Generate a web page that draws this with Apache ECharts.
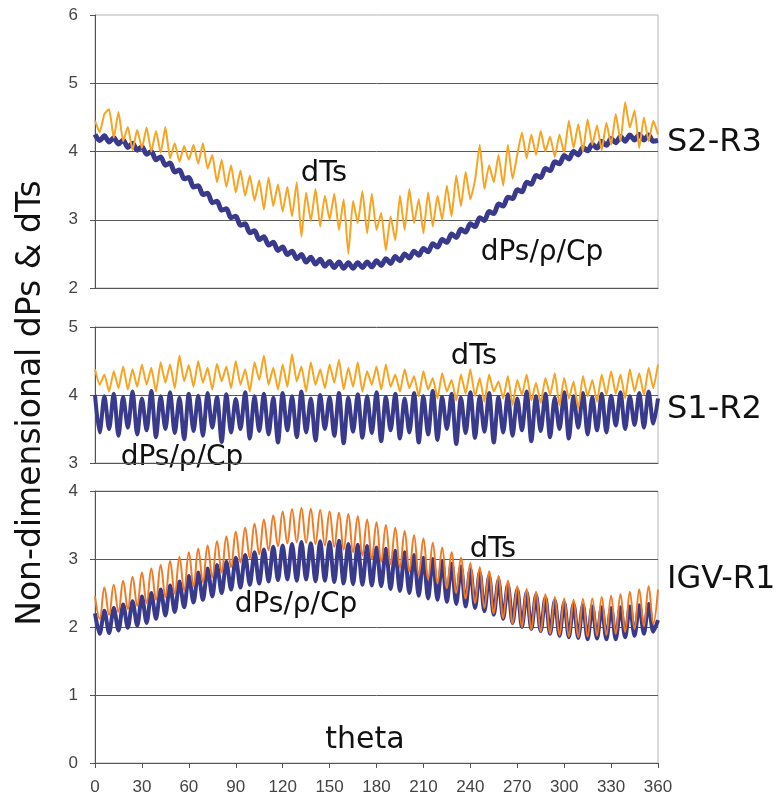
<!DOCTYPE html>
<html>
<head>
<meta charset="utf-8">
<title>Non-dimensional dPs &amp; dTs</title>
<script src="https://cdn.jsdelivr.net/npm/echarts@6/dist/echarts.min.js"></script>
<style>
  html, body { margin: 0; padding: 0; background: #fff; }
  #chart { width: 782px; height: 796px; }
</style>
</head>
<body>
<div id="chart"></div>
<script>
// sample angles, every 3 deg
const theta = [
  0, 3, 6, 9, 12, 15, 18, 21, 24, 27,
  30, 33, 36, 39, 42, 45, 48, 51, 54, 57,
  60, 63, 66, 69, 72, 75, 78, 81, 84, 87,
  90, 93, 96, 99, 102, 105, 108, 111, 114, 117,
  120, 123, 126, 129, 132, 135, 138, 141, 144, 147,
  150, 153, 156, 159, 162, 165, 168, 171, 174, 177,
  180, 183, 186, 189, 192, 195, 198, 201, 204, 207,
  210, 213, 216, 219, 222, 225, 228, 231, 234, 237,
  240, 243, 246, 249, 252, 255, 258, 261, 264, 267,
  270, 273, 276, 279, 282, 285, 288, 291, 294, 297,
  300, 303, 306, 309, 312, 315, 318, 321, 324, 327,
  330, 333, 336, 339, 342, 345, 348, 351, 354, 357,
  360
]
const thetaTicks = [0, 30, 60, 90, 120, 150, 180, 210, 240, 270, 300, 330, 360]

// S2-R3
const s2r3_dPs = [
  4.25, 4.16, 4.23, 4.14, 4.20, 4.11, 4.17, 4.06, 4.12, 4.02,
  4.07, 3.96, 4.00, 3.88, 3.92, 3.80, 3.83, 3.70, 3.73, 3.60,
  3.62, 3.48, 3.50, 3.37, 3.39, 3.25, 3.27, 3.14, 3.16, 3.03,
  3.05, 2.92, 2.94, 2.81, 2.84, 2.71, 2.75, 2.63, 2.67, 2.55,
  2.60, 2.49, 2.54, 2.43, 2.49, 2.38, 2.45, 2.35, 2.42, 2.32,
  2.39, 2.30, 2.38, 2.29, 2.37, 2.29, 2.37, 2.30, 2.38, 2.31,
  2.40, 2.33, 2.43, 2.36, 2.46, 2.40, 2.50, 2.44, 2.54, 2.48,
  2.58, 2.53, 2.65, 2.60, 2.71, 2.67, 2.79, 2.74, 2.86, 2.82,
  2.94, 2.90, 3.03, 2.99, 3.12, 3.09, 3.23, 3.20, 3.33, 3.31,
  3.44, 3.41, 3.55, 3.52, 3.65, 3.62, 3.75, 3.72, 3.85, 3.82,
  3.94, 3.89, 4.00, 3.95, 4.06, 4.01, 4.11, 4.05, 4.15, 4.09,
  4.19, 4.13, 4.22, 4.15, 4.24, 4.17, 4.25, 4.17, 4.24, 4.15,
  4.16
]
const s2r3_dTs = [
  4.45, 4.28, 4.55, 4.62, 4.20, 4.58, 4.15, 4.36, 4.02, 4.32,
  4.05, 4.35, 4.00, 4.30, 3.98, 4.36, 3.90, 4.12, 3.85, 4.08,
  3.88, 4.10, 3.82, 4.12, 3.75, 3.95, 3.55, 3.88, 3.48, 3.80,
  3.40, 3.72, 3.35, 3.65, 3.28, 3.58, 3.15, 3.62, 3.20, 3.52,
  3.12, 3.48, 3.05, 3.55, 2.75, 3.40, 2.98, 3.45, 2.90, 3.35,
  3.00, 3.38, 2.85, 3.30, 2.50, 3.28, 2.95, 3.42, 2.80, 3.38,
  2.85, 3.10, 2.55, 3.05, 2.70, 3.35, 2.85, 3.45, 2.95, 3.30,
  2.80, 3.40, 2.90, 3.35, 3.00, 3.50, 3.05, 3.65, 3.20, 3.70,
  3.30, 3.58, 4.10, 3.45, 3.80, 3.55, 3.95, 3.50, 4.10, 3.60,
  3.95, 4.28, 3.90, 4.25, 3.95, 4.30, 4.00, 4.22, 3.92, 4.25,
  3.98, 4.45, 4.05, 4.40, 4.00, 4.47, 4.10, 4.38, 4.02, 4.42,
  4.10, 4.55, 4.15, 4.72, 4.35, 4.60, 4.05, 4.50, 4.15, 4.45,
  4.25
]

// S1-R2
const s1r2_dPs = [
  4.00, 3.45, 3.98, 3.50, 4.02, 3.40, 3.97, 3.52, 4.05, 3.42,
  3.95, 3.48, 4.06, 3.38, 3.98, 3.50, 4.04, 3.44, 3.96, 3.35,
  4.02, 3.47, 3.99, 3.40, 4.03, 3.52, 3.97, 3.31, 4.01, 3.45,
  3.94, 3.50, 4.04, 3.36, 3.98, 3.47, 4.02, 3.42, 3.96, 3.30,
  4.03, 3.48, 3.98, 3.38, 4.05, 3.45, 3.95, 3.33, 4.00, 3.50,
  3.97, 3.40, 4.03, 3.29, 3.96, 3.46, 4.01, 3.37, 3.98, 3.44,
  4.04, 3.32, 3.97, 3.48, 4.02, 3.36, 3.95, 3.45, 4.03, 3.30,
  3.98, 3.42, 4.06, 3.34, 3.97, 3.50, 4.02, 3.28, 3.96, 3.44,
  4.04, 3.37, 3.98, 3.46, 4.03, 3.30, 3.97, 3.45, 4.01, 3.40,
  3.95, 3.48, 4.05, 3.32, 3.98, 3.47, 4.02, 3.38, 3.96, 3.50,
  4.04, 3.36, 3.98, 3.52, 4.03, 3.42, 3.97, 3.48, 4.02, 3.45,
  3.99, 3.55, 4.04, 3.50, 3.98, 3.56, 4.03, 3.52, 4.05, 3.58,
  3.95
]
const s1r2_dTs = [
  4.38, 4.15, 4.30, 4.05, 4.35, 4.10, 4.42, 4.08, 4.38, 4.12,
  4.45, 4.15, 4.40, 4.05, 4.48, 4.18, 4.45, 4.10, 4.58, 4.20,
  4.44, 4.12, 4.50, 4.18, 4.40, 4.08, 4.46, 4.20, 4.42, 4.10,
  4.50, 4.15, 4.38, 4.05, 4.48, 4.22, 4.58, 4.15, 4.40, 4.08,
  4.45, 4.12, 4.60, 4.20, 4.42, 4.05, 4.48, 4.15, 4.38, 4.10,
  4.45, 4.18, 4.52, 4.08, 4.40, 4.12, 4.48, 4.05, 4.35, 4.15,
  4.42, 4.08, 4.45, 4.12, 4.30, 4.05, 4.38, 4.10, 4.28, 3.98,
  4.35, 4.08, 4.25, 3.95, 4.32, 4.05, 4.22, 3.92, 4.30, 4.02,
  4.38, 3.98, 4.25, 3.90, 4.30, 4.05, 4.20, 3.95, 4.28, 3.85,
  4.22, 4.00, 4.30, 3.92, 4.18, 3.88, 4.25, 4.00, 4.32, 3.85,
  4.25, 3.95, 4.20, 3.80, 4.28, 3.98, 4.22, 3.90, 4.30, 4.00,
  4.35, 4.02, 4.30, 3.95, 4.38, 4.05, 4.32, 4.00, 4.40, 4.10,
  4.45
]

// IGV-R1
const igvr1_dPs = [
  2.20, 1.90, 2.24, 1.91, 2.28, 1.95, 2.33, 1.99, 2.38, 2.02,
  2.45, 2.06, 2.50, 2.12, 2.55, 2.17, 2.61, 2.22, 2.67, 2.29,
  2.75, 2.36, 2.80, 2.40, 2.86, 2.45, 2.91, 2.50, 2.96, 2.55,
  3.02, 2.58, 3.06, 2.62, 3.10, 2.64, 3.14, 2.67, 3.18, 2.69,
  3.20, 2.70, 3.22, 2.68, 3.25, 2.70, 3.23, 2.67, 3.26, 2.68,
  3.25, 2.66, 3.27, 2.64, 3.22, 2.63, 3.21, 2.62, 3.19, 2.61,
  3.17, 2.60, 3.15, 2.56, 3.12, 2.53, 3.10, 2.50, 3.06, 2.46,
  3.02, 2.42, 3.00, 2.40, 2.97, 2.37, 2.93, 2.34, 2.89, 2.30,
  2.85, 2.28, 2.80, 2.23, 2.75, 2.18, 2.69, 2.12, 2.62, 2.06,
  2.55, 2.00, 2.51, 1.97, 2.47, 1.94, 2.43, 1.90, 2.39, 1.87,
  2.36, 1.85, 2.34, 1.84, 2.32, 1.82, 2.30, 1.83, 2.29, 1.82,
  2.28, 1.82, 2.29, 1.85, 2.30, 1.87, 2.32, 1.90, 2.34, 1.93,
  2.10
]
const igvr1_dTs = [
  2.45, 2.12, 2.58, 2.18, 2.62, 2.22, 2.68, 2.26, 2.74, 2.31,
  2.80, 2.35, 2.86, 2.40, 2.91, 2.44, 2.97, 2.49, 3.03, 2.54,
  3.10, 2.60, 3.15, 2.66, 3.20, 2.73, 3.26, 2.80, 3.33, 2.88,
  3.40, 2.95, 3.46, 3.01, 3.52, 3.07, 3.58, 3.13, 3.64, 3.19,
  3.70, 3.23, 3.73, 3.25, 3.75, 3.24, 3.74, 3.22, 3.72, 3.20,
  3.70, 3.18, 3.68, 3.14, 3.66, 3.10, 3.63, 3.05, 3.58, 3.00,
  3.54, 2.96, 3.50, 2.92, 3.46, 2.87, 3.41, 2.82, 3.35, 2.76,
  3.30, 2.70, 3.24, 2.64, 3.17, 2.57, 3.10, 2.50, 3.02, 2.42,
  2.94, 2.35, 2.88, 2.28, 2.82, 2.20, 2.75, 2.13, 2.68, 2.05,
  2.60, 2.00, 2.56, 1.96, 2.52, 1.93, 2.48, 1.90, 2.44, 1.88,
  2.42, 1.86, 2.40, 1.85, 2.41, 1.86, 2.42, 1.87, 2.44, 1.88,
  2.46, 1.90, 2.48, 1.93, 2.52, 1.97, 2.55, 2.01, 2.60, 2.05,
  2.55
]

const BLUE = '#3a3a8c'
const AXIS = '#555'
const TEXT_FONT = 'DejaVu Sans'

const panels = [
  { top: 15, height: 273, min: 2, max: 6, dPs: s2r3_dPs, dTs: s2r3_dTs, tsColor: '#f6a422', psWidth: 5, topLine: false },
  { top: 327, height: 136, min: 3, max: 5, dPs: s1r2_dPs, dTs: s1r2_dTs, tsColor: '#f6a422', psWidth: 4, topLine: true },
  { top: 491, height: 273, min: 0, max: 4, dPs: igvr1_dPs, dTs: igvr1_dTs, tsColor: '#f07b26', psWidth: 4, topLine: true }
]

function label(text, x, y, size, align) {
  return {
    type: 'text',
    x: x, y: y,
    style: {
      text: text,
      font: size + 'px "' + TEXT_FONT + '"',
      fill: '#111',
      align: align || 'center',
      verticalAlign: 'middle'
    }
  }
}

function initChart() {
  const chartInstance = echarts.init(document.getElementById('chart'), null, { renderer: 'canvas' })

  const grid = []
  const xAxis = []
  const yAxis = []
  const series = []

  panels.forEach((p, i) => {
    const last = i === panels.length - 1
    grid.push({
      left: 95, right: 124, top: p.top, height: p.height,
      show: true, borderColor: '#b4b4b4', borderWidth: 1
    })
    xAxis.push({
      type: 'value', gridIndex: i, min: 0, max: 360, interval: 30,
      axisLine: { show: true, lineStyle: { color: AXIS, width: 1 } },
      axisTick: { show: last, length: 5, lineStyle: { color: AXIS } },
      axisLabel: {
        show: last, margin: 16, color: '#444', fontSize: 17, fontFamily: 'Liberation Sans',
        customValues: thetaTicks
      },
      splitLine: { show: false }
    })
    yAxis.push({
      type: 'value', gridIndex: i, min: p.min, max: p.max, interval: 1,
      axisLine: { show: true, lineStyle: { color: AXIS, width: 1 } },
      axisTick: { show: true, length: 5, lineStyle: { color: AXIS } },
      axisLabel: { margin: 17, color: '#444', fontSize: 17, fontFamily: 'Liberation Sans' },
      splitLine: { show: true, showMaxLine: p.topLine, lineStyle: { color: '#5a5a5a', width: 1 } }
    })
    series.push({
      type: 'line', xAxisIndex: i, yAxisIndex: i,
      data: theta.map((t, k) => [t, p.dPs[k]]),
      showSymbol: false, smooth: 0.3,
      lineStyle: { color: BLUE, width: p.psWidth }
    })
    series.push({
      type: 'line', xAxisIndex: i, yAxisIndex: i,
      data: theta.map((t, k) => [t, p.dTs[k]]),
      showSymbol: false, smooth: i === 2 ? 0.4 : 0.15,
      lineStyle: { color: p.tsColor, width: 2 }
    })
  })

  const option = {
    animation: false,
    backgroundColor: '#fff',
    grid: grid,
    xAxis: xAxis,
    yAxis: yAxis,
    series: series,
    graphic: [
      label('dTs', 324, 173, 29),
      label('dPs/\u03c1/Cp', 542, 253, 28),
      label('dTs', 474, 356, 29),
      label('dPs/\u03c1/Cp', 182, 458, 28),
      label('dTs', 493, 549, 29),
      label('dPs/\u03c1/Cp', 296, 605, 28),
      label('theta', 365, 740, 30),
      label('S2-R3', 667, 143, 32, 'left'),
      label('S1-R2', 667, 410, 32, 'left'),
      label('IGV-R1', 667, 580, 32, 'left'),
      {
        type: 'text',
        x: 31, y: 403,
        rotation: Math.PI / 2,
        style: {
          text: 'Non-dimensional dPs & dTs',
          font: '33px "' + TEXT_FONT + '"',
          fill: '#111',
          align: 'center',
          verticalAlign: 'middle'
        }
      }
    ]
  }
  chartInstance.setOption(option)
}

initChart()
</script>
</body>
</html>
